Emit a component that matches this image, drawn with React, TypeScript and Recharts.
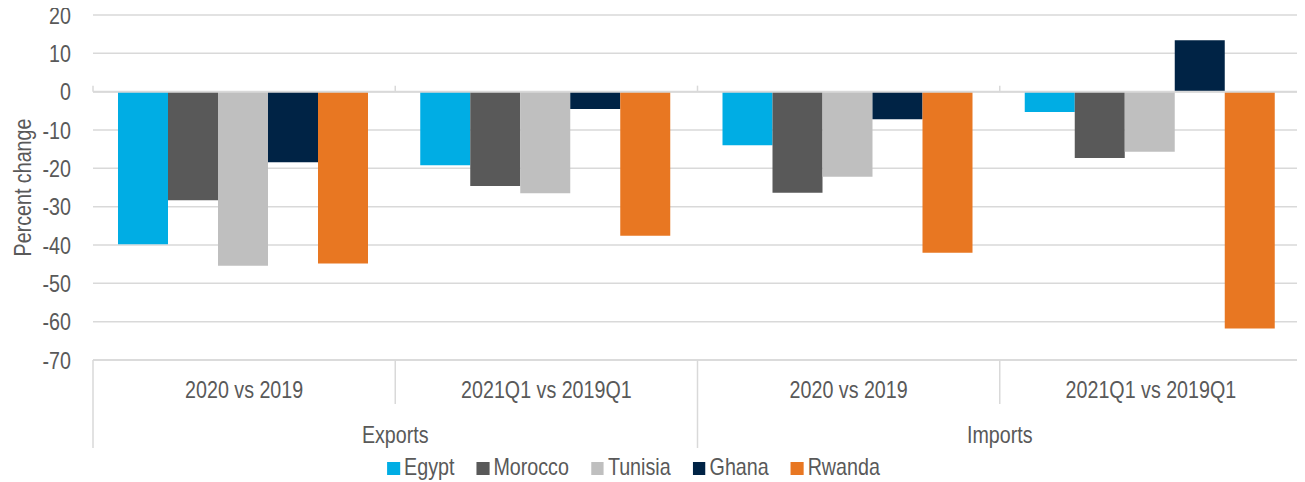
import { Bar, BarChart, CartesianGrid, Label, Legend, ReferenceLine, XAxis, YAxis } from "recharts";

// Arial Narrow is not installed: Liberation Sans squeezed to 82% has the same metrics
const FONT = '"Liberation Sans", Arial, sans-serif';
const NARROW = 0.82;
const TEXT = "#595959";
const GRID = "#d9d9d9";

const categories = ["2020 vs 2019", "2021Q1 vs 2019Q1", "2020 vs 2019", "2021Q1 vs 2019Q1"];
const groups = ["Exports", "Exports", "Imports", "Imports"];

const egypt = [-39.8, -19.2, -14.0, -5.3];
const morocco = [-28.3, -24.6, -26.4, -17.3];
const tunisia = [-45.4, -26.5, -22.2, -15.7];
const ghana = [-18.4, -4.5, -7.2, 13.4];
const rwanda = [-44.8, -37.6, -42.0, -61.8];

const yTicks = [20, 10, 0, -10, -20, -30, -40, -50, -60, -70];

const series = [
  { name: "Egypt", values: egypt, color: "#00ADE4" },
  { name: "Morocco", values: morocco, color: "#595959" },
  { name: "Tunisia", values: tunisia, color: "#BFBFBF" },
  { name: "Ghana", values: ghana, color: "#002345" },
  { name: "Rwanda", values: rwanda, color: "#E87722" },
];

const data = categories.map((period, i) => {
  const row: Record<string, string | number> = { id: `${groups[i]}-${i}`, period, group: groups[i] };
  series.forEach((s) => {
    row[s.name] = s.values[i];
  });
  return row;
});

const NarrowText = ({ x, y, anchor = "middle", rotate = 0, children }: any) => (
  <text
    transform={`translate(${x} ${y}) rotate(${rotate}) scale(${NARROW} 1)`}
    dy="0.355em"
    textAnchor={anchor}
    fill={TEXT}
    fontSize={24}
    fontFamily={FONT}
  >
    {children}
  </text>
);

const CategoryTick = (props: any) => {
  const { x, y, payload, width } = props;
  const i = props.index ?? payload.index;
  const band = payload.offset ? payload.offset * 2 : width / data.length;
  const left = x - band / 2;
  const right = x + band / 2;
  const firstOfGroup = i === 0 || groups[i - 1] !== groups[i];
  let span = 1;
  while (i + span < groups.length && groups[i + span] === groups[i]) span++;
  return (
    <g>
      <line x1={left} x2={left} y1={y} y2={y + (firstOfGroup ? 88 : 44)} stroke={GRID} strokeWidth={1.5} />
      {i === data.length - 1 && (
        <line x1={right} x2={right} y1={y} y2={y + 88} stroke={GRID} strokeWidth={1.5} />
      )}
      <NarrowText x={x} y={y + 29.5}>
        {categories[i]}
      </NarrowText>
      {firstOfGroup && (
        <NarrowText x={left + (band * span) / 2} y={y + 74.5}>
          {groups[i]}
        </NarrowText>
      )}
    </g>
  );
};

const ValueTick = (props: any) => (
  <NarrowText x={props.x} y={props.y} anchor="end">
    {props.payload.value}
  </NarrowText>
);

const ZeroAxis = (props: any) => {
  const { x1, y1, x2, y2 } = props;
  const step = (x2 - x1) / categories.length;
  return (
    <g>
      <line x1={x1} y1={y1} x2={x2} y2={y2} stroke={GRID} strokeWidth={2} />
      {Array.from({ length: categories.length + 1 }, (_, k) => (
        <line key={k} x1={x1 + k * step} x2={x1 + k * step} y1={y1} y2={y1 - 6} stroke={GRID} strokeWidth={1.5} />
      ))}
    </g>
  );
};

const renderLegend = () => (
  <div
    style={{
      display: "flex",
      justifyContent: "center",
      gap: 22 / NARROW,
      fontFamily: FONT,
      fontSize: 24,
      lineHeight: "27px",
      color: TEXT,
      transform: `scaleX(${NARROW})`,
      transformOrigin: "center",
    }}
  >
    {series.map((s) => (
      <span key={s.name} style={{ display: "flex", alignItems: "center" }}>
        <span
          style={{
            width: 13 / NARROW,
            height: 13,
            background: s.color,
            marginRight: 4 / NARROW,
            marginTop: 3,
            display: "inline-block",
          }}
        />
        {s.name}
      </span>
    ))}
  </div>
);

const App = () => {
  return (
    <div style={{ margin: "-8px 0 0 -8px", width: 1305, height: 482, background: "#fff" }}>
      <BarChart
        width={1305}
        height={482}
        data={data}
        margin={{ top: 15, right: 3, left: 0, bottom: 32 }}
        barCategoryGap={25}
        barGap={0}
      >
        <CartesianGrid vertical={false} stroke={GRID} strokeWidth={1.5} />
        <XAxis
          dataKey="id"
          height={90}
          axisLine={{ stroke: GRID, strokeWidth: 1.5 }}
          tickLine={false}
          tickSize={0}
          tickMargin={0}
          interval={0}
          tick={<CategoryTick />}
        />
        <YAxis
          domain={[-70, 20]}
          ticks={yTicks}
          interval={0}
          width={93}
          axisLine={false}
          tickLine={false}
          tickMargin={16}
          tick={<ValueTick />}
        >
          <Label
            content={(p: any) => {
              const vb = p.viewBox || { x: 0, y: 15, width: 93, height: 345 };
              return (
                <NarrowText x={vb.x + 22} y={vb.y + vb.height / 2} rotate={-90}>
                  Percent change
                </NarrowText>
              );
            }}
          />
        </YAxis>
        <Legend
          layout="horizontal"
          verticalAlign="middle"
          align="center"
          content={renderLegend}
          wrapperStyle={{ top: 453, left: 0, width: 1267 }}
        />
        {series.map((s) => (
          <Bar key={s.name} dataKey={s.name} fill={s.color} isAnimationActive={false} />
        ))}
        <ReferenceLine y={0} shape={<ZeroAxis />} />
      </BarChart>
    </div>
  );
};

export default App;
